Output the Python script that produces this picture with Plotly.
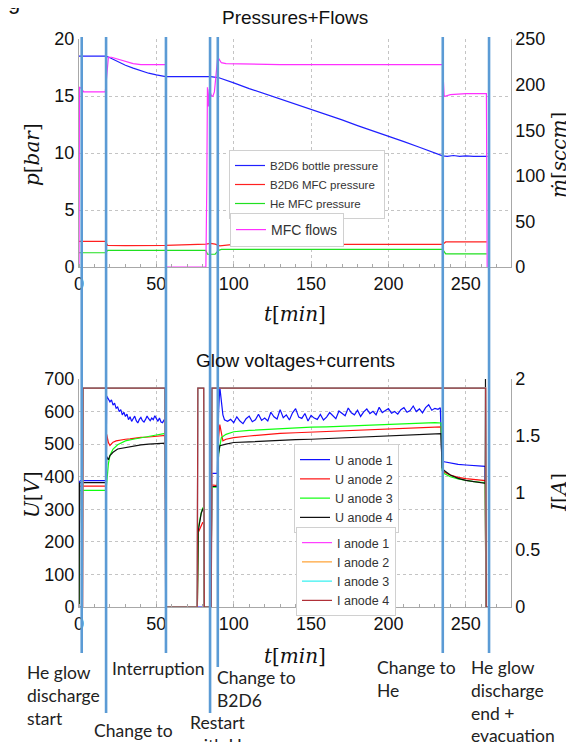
import plotly.graph_objects as go

# The page body has an 8 px margin, so the figure is drawn 8 px smaller and
# every reference pixel position (X, Y) is mapped to figure pixel (X-8, Y-8).
OFF = 8
W, H = 574 - OFF, 742 - OFF
def xp(p): return (p - OFF) / W
def yp(p): return 1 - (p - OFF) / H

# ---------------- data ----------------
x_ticks = [0, 50, 100, 150, 200, 250]

# top panel: pressures [bar] and flows [sccm]
bottle_t = [0, 17.5, 20, 25, 30, 35, 40, 45, 50, 56, 70, 85, 90, 95, 100, 110, 120, 130, 140, 150,
            160, 170, 180, 190, 200, 210, 220, 230, 235, 238, 242, 246, 250, 255, 260, 264]
bottle_p = [18.5, 18.5, 18.35, 18.0, 17.7, 17.45, 17.2, 17.0, 16.85, 16.7, 16.7, 16.7, 16.62, 16.4, 16.15,
            15.65, 15.2, 14.75, 14.3, 13.85, 13.35, 12.9, 12.4, 11.95, 11.45, 11.0, 10.5, 10.0, 9.75,
            9.7, 9.78, 9.7, 9.75, 9.7, 9.72, 9.7]

b2d6_mfc_t = [0, 17, 18.5, 30, 56, 68, 72, 82, 85, 88, 91, 94, 100, 235, 237, 263.5]
b2d6_mfc_p = [2.25, 2.25, 1.9, 1.88, 1.9, 1.95, 2.0, 2.0, 2.08, 2.0, 1.85, 1.9, 1.98, 1.98, 2.2, 2.2]

he_mfc_t = [0, 17, 18.5, 82, 83, 88, 90, 92, 235, 237, 263.5]
he_mfc_p = [1.25, 1.25, 1.45, 1.45, 1.12, 1.12, 1.45, 1.55, 1.55, 1.15, 1.15]

flow_t = [0, 0.3, 1.5, 3, 17, 17.5, 19, 21, 25, 30, 35, 40, 56, 56.3, 82, 82.6, 83, 83.6, 84.2, 85.5,
          86.5, 87.5, 88.5, 89.5, 90.5, 92, 95, 130, 235, 235.5, 236, 240, 250, 263.3, 263.8]
flow_v = [0, 197, 196, 192, 192, 200, 230, 230, 228, 225, 223, 222, 222, 0, 0, 90, 197, 176, 195, 188,
          187, 192, 210, 227, 228, 224, 223, 222, 222, 200, 187, 189, 190, 190, 0]

# bottom panel: glow voltages [V]
u1_t = [0, 0.4, 1, 17.4, 17.9, 19, 20, 21, 22, 23, 24, 25, 26, 27, 28, 29, 30, 31, 32, 33, 34, 35, 36,
        37, 38, 39, 40, 41, 42, 43, 44, 45, 46, 47, 48, 49, 50, 51, 52, 53, 54, 55, 55.8, 56.2, 85.3,
        85.8, 89.4, 90.2, 91, 92, 93, 94, 96, 98, 100, 102, 104, 106, 108, 110, 112, 114, 116, 118,
        120, 122, 124, 126, 128, 130, 132, 134, 136, 138, 140, 142, 144, 146, 148, 150, 152, 154, 156,
        158, 160, 162, 164, 166, 168, 170, 172, 174, 176, 178, 180, 182, 184, 186, 188, 190, 192, 194,
        196, 198, 200, 202, 204, 206, 208, 210, 212, 214, 216, 218, 220, 222, 224, 226, 228, 230, 232,
        233.5, 234.5, 236, 240, 245, 250, 255, 260, 262.5, 263]
u1_v = [0, 385, 388, 388, 648, 640, 630, 636, 620, 626, 610, 614, 600, 606, 590, 598, 585, 592, 575, 584,
        570, 578, 586, 572, 565, 576, 582, 572, 568, 576, 586, 578, 572, 580, 575, 587, 578, 570, 580,
        568, 566, 574, 570, 0, 0, 410, 410, 600, 675, 640, 590, 575,
        570, 576, 566, 584, 571, 563, 578, 586, 569, 575,
        592, 573, 580, 571, 598, 584, 577, 606, 581, 590,
        574, 596, 609, 583, 579, 594, 571, 588, 580, 576,
        591, 574, 583, 597, 588, 578, 602, 593, 587, 611,
        596, 590, 604, 585, 599, 608, 594, 601, 590, 613,
        597, 603, 609, 595, 600, 592, 606, 612, 598, 603,
        617, 600, 608, 596, 612, 621, 604, 610, 607,
        612, 452, 446, 442, 438, 436, 434, 433, 432, 0]

u2_t = [0, 0.4, 1, 17.4, 17.9, 19, 20, 21, 22, 24, 26, 28, 30, 33, 36, 40, 45, 50, 55, 55.8, 56.2, 76.5,
        77, 78, 79, 80, 80.6, 81, 85.3, 85.8, 89.4, 90.2, 91, 92, 93, 95, 100, 110, 120, 130, 140, 150,
        160, 170, 180, 190, 200, 210, 220, 230, 234, 234.6, 236, 240, 245, 250, 255, 260, 262.5, 263]
u2_v = [0, 368, 371, 371, 530, 505, 496, 500, 506, 510, 512, 514, 515, 516, 519, 521, 522, 525, 527, 527,
        0, 0, 228, 240, 252, 260, 255, 0, 0, 375, 373, 520, 560, 530, 510, 515, 520, 525, 530, 533, 535,
        537, 539, 541, 543, 545, 547, 548, 550, 552, 553, 425, 414, 405, 398, 394, 391, 389, 388, 0]

u3_t = [0, 0.4, 1, 17.4, 17.9, 19, 20, 22, 25, 30, 35, 40, 45, 50, 55, 55.8, 56.2, 76.5, 77, 78, 79, 80,
        80.6, 81, 85.3, 85.8, 89.4, 90.2, 91, 92, 95, 100, 110, 120, 130, 140, 150, 160, 170, 180, 190,
        200, 210, 220, 230, 234, 234.6, 236, 240, 245, 250, 255, 260, 262.5, 263]
u3_v = [0, 355, 358, 358, 380, 440, 465, 485, 498, 510, 515, 520, 525, 528, 532, 532, 0, 0, 240, 266, 290,
        305, 300, 0, 0, 368, 368, 470, 500, 520, 530, 538, 542, 545, 548, 550, 552, 553, 555, 558, 560,
        562, 563, 565, 566, 565, 420, 410, 400, 393, 388, 385, 383, 382, 0]

u4_t = [0, 0.4, 1, 17.4, 17.9, 19, 20, 22, 25, 30, 35, 40, 45, 50, 55, 55.8, 56.2, 76.5, 77, 78, 79, 80,
        80.6, 81, 85.3, 85.8, 89.4, 90.2, 91, 95, 100, 110, 120, 130, 140, 150, 160, 170, 180, 190, 200,
        210, 220, 230, 234, 234.6, 236, 240, 245, 250, 255, 260, 262.5, 262.7, 263.1]
u4_v = [0, 380, 382, 382, 462, 452, 465, 475, 485, 490, 495, 498, 500, 502, 503, 503, 0, 0, 232, 262, 288,
        300, 298, 0, 0, 370, 370, 470, 495, 500, 505, 507, 510, 512, 514, 515, 517, 519, 521, 523, 525,
        527, 529, 531, 532, 428, 419, 405, 395, 389, 385, 382, 380, 700, 0]

# bottom panel: glow currents [A]
i_t = [0, 2.3, 2.6, 55.6, 56.0, 76.4, 76.8, 80.6, 81.0, 85.5, 85.9, 262.8, 263.2, 265]
i1_v = [0, 0, 1.92, 1.92, 0, 0, 1.92, 1.92, 0, 0, 1.92, 1.92, 0, 0]
i2_v = [0, 0, 1.92, 1.92, 0, 0, 1.92, 1.92, 0, 0, 1.92, 1.92, 0, 0]
i3_v = [0, 0, 1.92, 1.92, 0, 0, 1.92, 1.92, 0, 0, 1.92, 1.92, 0, 0]
i4_v = [0, 0, 1.92, 1.92, 0, 0, 1.92, 1.92, 0, 0, 1.92, 1.92, 0, 0]

# event markers
event_t = [1.75, 17.5, 56.2, 84.7, 89.7, 235.1, 265]
event_end_px = [653, 713, 653, 713, 667, 653, 653]

# ---------------- figure ----------------
fig = go.Figure()
LW = 1.2

def add(x, y, name, color, xa, ya, legend):
    fig.add_trace(go.Scatter(x=x, y=y, name=name, mode='lines', xaxis=xa, yaxis=ya,
                             line=dict(color=color, width=LW), legend=legend))

add(bottle_t, bottle_p, 'B2D6 bottle pressure', '#2020ff', 'x', 'y', 'legend')
add(b2d6_mfc_t, b2d6_mfc_p, 'B2D6 MFC pressure', '#ff2020', 'x', 'y', 'legend')
add(he_mfc_t, he_mfc_p, 'He MFC pressure', '#20e020', 'x', 'y', 'legend')
add(flow_t, flow_v, 'MFC flows', '#ff30ff', 'x', 'y2', 'legend2')

add(u1_t, u1_v, 'U anode 1', '#1010ff', 'x2', 'y3', 'legend3')
add(u2_t, u2_v, 'U anode 2', '#ff1010', 'x2', 'y3', 'legend3')
add(u3_t, u3_v, 'U anode 3', '#10ff10', 'x2', 'y3', 'legend3')
add(u4_t, u4_v, 'U anode 4', '#101010', 'x2', 'y3', 'legend3')
add(i_t, i1_v, 'I anode 1', '#ff40ff', 'x2', 'y4', 'legend4')
add(i_t, i2_v, 'I anode 2', '#ffa030', 'x2', 'y4', 'legend4')
add(i_t, i3_v, 'I anode 3', '#30f0f0', 'x2', 'y4', 'legend4')
add(i_t, i4_v, 'I anode 4', '#b03038', 'x2', 'y4', 'legend4')

TICKFONT = dict(family='Arial, Liberation Sans, sans-serif', size=18, color='#111')
GRID = dict(showgrid=True, gridcolor='#c4c4c4', griddash='dot', gridwidth=1)
LINE = dict(showline=True, linecolor='#a8a8a8', linewidth=1, zeroline=False, automargin=False)
XDOM = [xp(79), xp(510.7)]

xcommon = dict(domain=XDOM, range=[0, 279], tickvals=x_ticks, tickfont=TICKFONT,
               ticks='', ticklabelstandoff=0,
               minor=dict(dtick=10, ticks='inside', ticklen=3, tickcolor='#a8a8a8', showgrid=False),
               **GRID, **LINE)

LEGFONT = 'Arial, Liberation Sans, sans-serif'
fig.update_layout(
    width=W, height=H, autosize=False,
    margin=dict(l=0, r=0, t=0, b=0, pad=0, autoexpand=False),
    paper_bgcolor='white', plot_bgcolor='white',
    xaxis=dict(anchor='y', **xcommon),
    yaxis=dict(domain=[yp(267), yp(39)], range=[0, 20], dtick=5, tickfont=TICKFONT, ticks='',
               **GRID, **LINE),
    yaxis2=dict(overlaying='y', side='right', anchor='x', range=[0, 250], dtick=50,
                tickfont=TICKFONT, ticks='', showgrid=False, **LINE),
    xaxis2=dict(anchor='y3', **xcommon),
    yaxis3=dict(domain=[yp(607), yp(379)], range=[0, 700], dtick=100, tickfont=TICKFONT, ticks='',
                **GRID, **LINE),
    yaxis4=dict(overlaying='y3', side='right', anchor='x2', range=[0, 2], dtick=0.5,
                tickfont=TICKFONT, ticks='', showgrid=False, **LINE),
    legend=dict(x=xp(229), y=yp(150), xanchor='left', yanchor='top', bgcolor='white',
                bordercolor='#d0d0d0', borderwidth=1, itemwidth=30,
                font=dict(family=LEGFONT, size=11.5, color='#333'), tracegroupgap=0),
    legend2=dict(x=xp(230), y=yp(213), xanchor='left', yanchor='top', bgcolor='white',
                 bordercolor='#d0d0d0', borderwidth=1, itemwidth=30,
                 font=dict(family=LEGFONT, size=14, color='#333')),
    legend3=dict(x=xp(294), y=yp(444), xanchor='left', yanchor='top', bgcolor='white',
                 bordercolor='#d0d0d0', borderwidth=1, itemwidth=30,
                 font=dict(family=LEGFONT, size=12.5, color='#333')),
    legend4=dict(x=xp(296), y=yp(527), xanchor='left', yanchor='top', bgcolor='white',
                 bordercolor='#d0d0d0', borderwidth=1, itemwidth=30,
                 font=dict(family=LEGFONT, size=12.5, color='#333')),
)

# event marker lines
for t, end in zip(event_t, event_end_px):
    fig.add_shape(type='line', xref='x', yref='paper', x0=t, x1=t, y0=yp(37), y1=yp(end),
                  line=dict(color='#5b9bd5', width=2.6), layer='above')

MATH = dict(family='DejaVu Serif, Liberation Serif, serif', size=20, color='#111')
TITLE = dict(family='Arial, Liberation Sans, sans-serif', size=19, color='#111')
NOTE = dict(family='Lato, Open Sans, sans-serif', size=17.5, color='#222')

ann = []
ann.append(dict(text='Pressures+Flows', x=xp(295), y=yp(18), font=TITLE))
ann.append(dict(text='Glow voltages+currents', x=xp(295), y=yp(360), font=TITLE))
ann.append(dict(text='<i>t</i>[<i>min</i>]', x=xp(295), y=yp(314), font=MATH))
ann.append(dict(text='<i>t</i>[<i>min</i>]', x=xp(295), y=yp(656), font=MATH))
ann.append(dict(text='<i>p</i>[<i>bar</i>]', x=xp(32), y=yp(155), font=MATH, textangle=-90))
ann.append(dict(text='<i>ṁ</i>[<i>sccm</i>]', x=xp(559), y=yp(155), font=MATH, textangle=-90))
ann.append(dict(text='<i>U</i>[<i>V</i>]', x=xp(32), y=yp(495), font=MATH, textangle=-90))
ann.append(dict(text='<i>I</i>[<i>A</i>]', x=xp(559), y=yp(493), font=MATH, textangle=-90))
ann.append(dict(text='g', x=xp(14), y=yp(2), font=dict(family='Arial, Liberation Sans', size=22, color='#111')))

notes = [
    ('He glow<br>discharge<br>start', 25, 672),
    ('Interruption', 110, 668),
    ('Change to<br>B2D6', 92, 730),
    ('Restart<br>with He', 188, 722),
    ('Change to<br>B2D6', 215, 677),
    ('Change to<br>He', 375, 667),
    ('He glow<br>discharge<br>end +<br>evacuation', 469, 667),
]
for txt, x, yc in notes:
    ann.append(dict(text=txt, x=xp(x), y=yp(yc - 12.4), xanchor='left', yanchor='top',
                    align='left', font=NOTE))

for a in ann:
    a.setdefault('xref', 'paper')
    a.setdefault('yref', 'paper')
    a.setdefault('showarrow', False)
    a.setdefault('xanchor', 'center')
    a.setdefault('yanchor', 'middle')
fig.update_layout(annotations=ann)

fig.write_html('out.html')
